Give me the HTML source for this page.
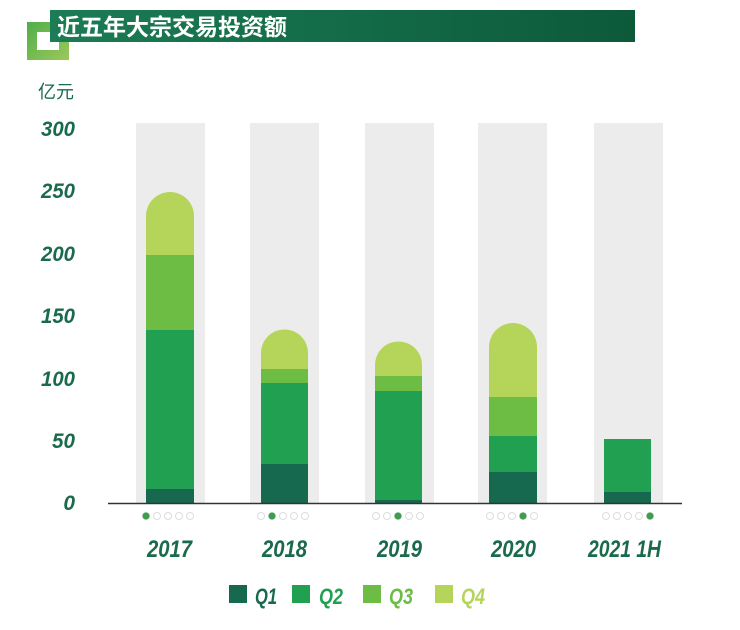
<!DOCTYPE html>
<html><head><style>
body{margin:0;background:#fff;}
</style></head><body>
<svg width="740" height="625" xmlns="http://www.w3.org/2000/svg" font-family="Liberation Sans, Noto Sans CJK SC, sans-serif">
<defs><linearGradient id="tg" x1="0" x2="1"><stop offset="0" stop-color="#1b7c55"/><stop offset="1" stop-color="#0c5a3a"/></linearGradient>
<linearGradient id="sq" x1="0" y1="0" x2="1" y2="1"><stop offset="0" stop-color="#4fae4a"/><stop offset="1" stop-color="#9cc85a"/></linearGradient></defs>
<rect x="27" y="22" width="42" height="38" fill="url(#sq)"/>
<rect x="37" y="32" width="22" height="18" fill="#fff"/>
<rect x="50" y="10" width="585" height="32" fill="url(#tg)"/>
<text x="57" y="35" font-size="23" font-weight="bold" fill="#fff" font-family="Noto Sans CJK SC, sans-serif">近五年大宗交易投资额</text>
<text x="38" y="98" font-size="18" fill="#1a6a4c" font-family="Noto Sans CJK SC, sans-serif">亿元</text>
<g font-size="21" font-weight="bold" font-style="italic" fill="#1a6a4c" text-anchor="end">
<text x="75" y="136" textLength="34" lengthAdjust="spacingAndGlyphs">300</text><text x="75" y="198" textLength="34" lengthAdjust="spacingAndGlyphs">250</text><text x="75" y="261" textLength="34" lengthAdjust="spacingAndGlyphs">200</text>
<text x="75" y="323" textLength="34" lengthAdjust="spacingAndGlyphs">150</text><text x="75" y="386" textLength="34" lengthAdjust="spacingAndGlyphs">100</text><text x="75" y="448" textLength="23" lengthAdjust="spacingAndGlyphs">50</text><text x="75" y="510">0</text></g>
<g fill="#ececec"><rect x="136" y="123" width="69" height="380"/><rect x="250" y="123" width="69" height="380"/><rect x="365" y="123" width="69" height="380"/><rect x="478" y="123" width="69" height="380"/><rect x="594" y="123" width="69" height="380"/></g>
<path d="M146 503V216a24 24 0 0 1 48 0V503Z" fill="#b5d55a"/>
<rect x="146" y="255" width="48" height="248" fill="#6dbd45"/>
<rect x="146" y="330" width="48" height="173" fill="#22a052"/>
<rect x="146" y="489" width="48" height="14" fill="#16694f"/>
<path d="M261 503V353a23.5 23.5 0 0 1 47 0V503Z" fill="#b5d55a"/>
<rect x="261" y="369" width="47" height="134" fill="#6dbd45"/>
<rect x="261" y="383" width="47" height="120" fill="#22a052"/>
<rect x="261" y="464" width="47" height="39" fill="#16694f"/>
<path d="M375 503V365a23.5 23.5 0 0 1 47 0V503Z" fill="#b5d55a"/>
<rect x="375" y="376" width="47" height="127" fill="#6dbd45"/>
<rect x="375" y="391" width="47" height="112" fill="#22a052"/>
<rect x="375" y="500" width="47" height="3" fill="#16694f"/>
<path d="M489 503V347a24 24 0 0 1 48 0V503Z" fill="#b5d55a"/>
<rect x="489" y="397" width="48" height="106" fill="#6dbd45"/>
<rect x="489" y="436" width="48" height="67" fill="#22a052"/>
<rect x="489" y="472" width="48" height="31" fill="#16694f"/>
<rect x="604" y="439" width="47" height="64" fill="#22a052"/>
<rect x="604" y="492" width="47" height="11" fill="#16694f"/>
<line x1="108" y1="503.5" x2="682" y2="503.5" stroke="#333" stroke-width="1.5"/>
<g fill="#fff" stroke="#ddd" stroke-width="1">
<circle cx="146" cy="516" r="3.5"/><circle cx="157" cy="516" r="3.5"/><circle cx="168" cy="516" r="3.5"/><circle cx="179" cy="516" r="3.5"/><circle cx="190" cy="516" r="3.5"/>
<circle cx="261" cy="516" r="3.5"/><circle cx="272" cy="516" r="3.5"/><circle cx="283" cy="516" r="3.5"/><circle cx="294" cy="516" r="3.5"/><circle cx="305" cy="516" r="3.5"/>
<circle cx="376" cy="516" r="3.5"/><circle cx="387" cy="516" r="3.5"/><circle cx="398" cy="516" r="3.5"/><circle cx="409" cy="516" r="3.5"/><circle cx="420" cy="516" r="3.5"/>
<circle cx="490" cy="516" r="3.5"/><circle cx="501" cy="516" r="3.5"/><circle cx="512" cy="516" r="3.5"/><circle cx="523" cy="516" r="3.5"/><circle cx="534" cy="516" r="3.5"/>
<circle cx="606" cy="516" r="3.5"/><circle cx="617" cy="516" r="3.5"/><circle cx="628" cy="516" r="3.5"/><circle cx="639" cy="516" r="3.5"/><circle cx="650" cy="516" r="3.5"/></g>
<g fill="#3aa050"><circle cx="146" cy="516" r="3.5"/><circle cx="272" cy="516" r="3.5"/><circle cx="398" cy="516" r="3.5"/><circle cx="523" cy="516" r="3.5"/><circle cx="650" cy="516" r="3.5"/></g>
<g font-size="24" font-weight="bold" font-style="italic" fill="#1a6a4c">
<text x="147" y="557" textLength="45" lengthAdjust="spacingAndGlyphs">2017</text>
<text x="262" y="557" textLength="45" lengthAdjust="spacingAndGlyphs">2018</text>
<text x="377" y="557" textLength="45" lengthAdjust="spacingAndGlyphs">2019</text>
<text x="491" y="557" textLength="45" lengthAdjust="spacingAndGlyphs">2020</text>
<text x="588" y="557" textLength="73" lengthAdjust="spacingAndGlyphs">2021 1H</text></g>
<rect x="229" y="585" width="18" height="18" fill="#16694f"/>
<rect x="292" y="585" width="18" height="18" fill="#22a052"/>
<rect x="363" y="585" width="18" height="18" fill="#6dbd45"/>
<rect x="435" y="585" width="18" height="18" fill="#b5d55a"/>
<g font-size="22" font-weight="bold" font-style="italic">
<text x="255" y="604" fill="#16694f" textLength="22" lengthAdjust="spacingAndGlyphs">Q1</text><text x="319" y="604" fill="#22a052" textLength="24" lengthAdjust="spacingAndGlyphs">Q2</text><text x="389" y="604" fill="#6dbd45" textLength="24" lengthAdjust="spacingAndGlyphs">Q3</text><text x="461" y="604" fill="#b5d55a" textLength="24" lengthAdjust="spacingAndGlyphs">Q4</text></g>
</svg>
</body></html>
